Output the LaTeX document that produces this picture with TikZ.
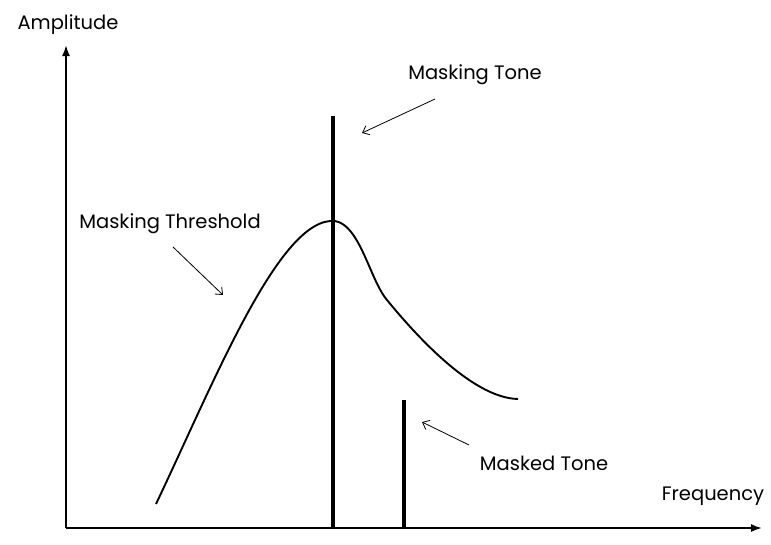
\documentclass[tikz,border=0pt]{standalone}
\usepackage{fontspec}
\setmainfont{Poppins}
\usetikzlibrary{arrows.meta}

\begin{document}
\begin{tikzpicture}[
    x=1pt,y=-1pt,
    lbl/.style={inner sep=0pt, font=\fontsize{19.5}{22}\selectfont},
    axis/.style={line width=1.8pt, -{Latex[length=11pt,width=8pt]}},
    tone/.style={line width=3.8pt},
    pointer/.style={line width=0.8pt, -{Straight Barb[length=6pt,width=10pt]}}
]
    \useasboundingbox (0,0) rectangle (771,544);

    % axes
    \coordinate (o) at (66,528);
    \coordinate (ytop) at (66,45);
    \coordinate (xend) at (762,528);
    \draw[axis] (o)--(ytop);
    \draw[axis] (o)--(xend);
    \node[lbl] (amp) at (68,25) {Amplitude};
    \node[lbl] (freq) at (713,496) {Frequency};

    % tones
    \coordinate (mtop) at (333,116);
    \coordinate (mbot) at (333,528);
    \coordinate (ktop) at (404,400);
    \coordinate (kbot) at (404,528);
    \draw[tone] (mbot)--(mtop);
    \draw[tone] (kbot)--(ktop);

    % threshold curve
    \draw[line width=1.9pt] (156,504) .. controls (215,380) and (280,216) .. (335,221)
        .. controls (360,225) and (370,280) .. (387,300)
        .. controls (410,328) and (470,398) .. (518,399);

    % labels
    \node[lbl] (mtone) at (475,75) {Masking Tone};
    \node[lbl] (thr) at (170,224) {Masking Threshold};
    \node[lbl] (ktone) at (544,463) {Masked Tone};

    \coordinate (mtail) at (435,99);
    \coordinate (mtip) at (362,133);
    \coordinate (ttail) at (173,247);
    \coordinate (ttip) at (223,295);
    \coordinate (ktail) at (469,445);
    \coordinate (ktip) at (422,422);
    \draw[pointer] (mtail)--(mtip);
    \draw[pointer] (ttail)--(ttip);
    \draw[pointer] (ktail)--(ktip);
\end{tikzpicture}
\end{document}
